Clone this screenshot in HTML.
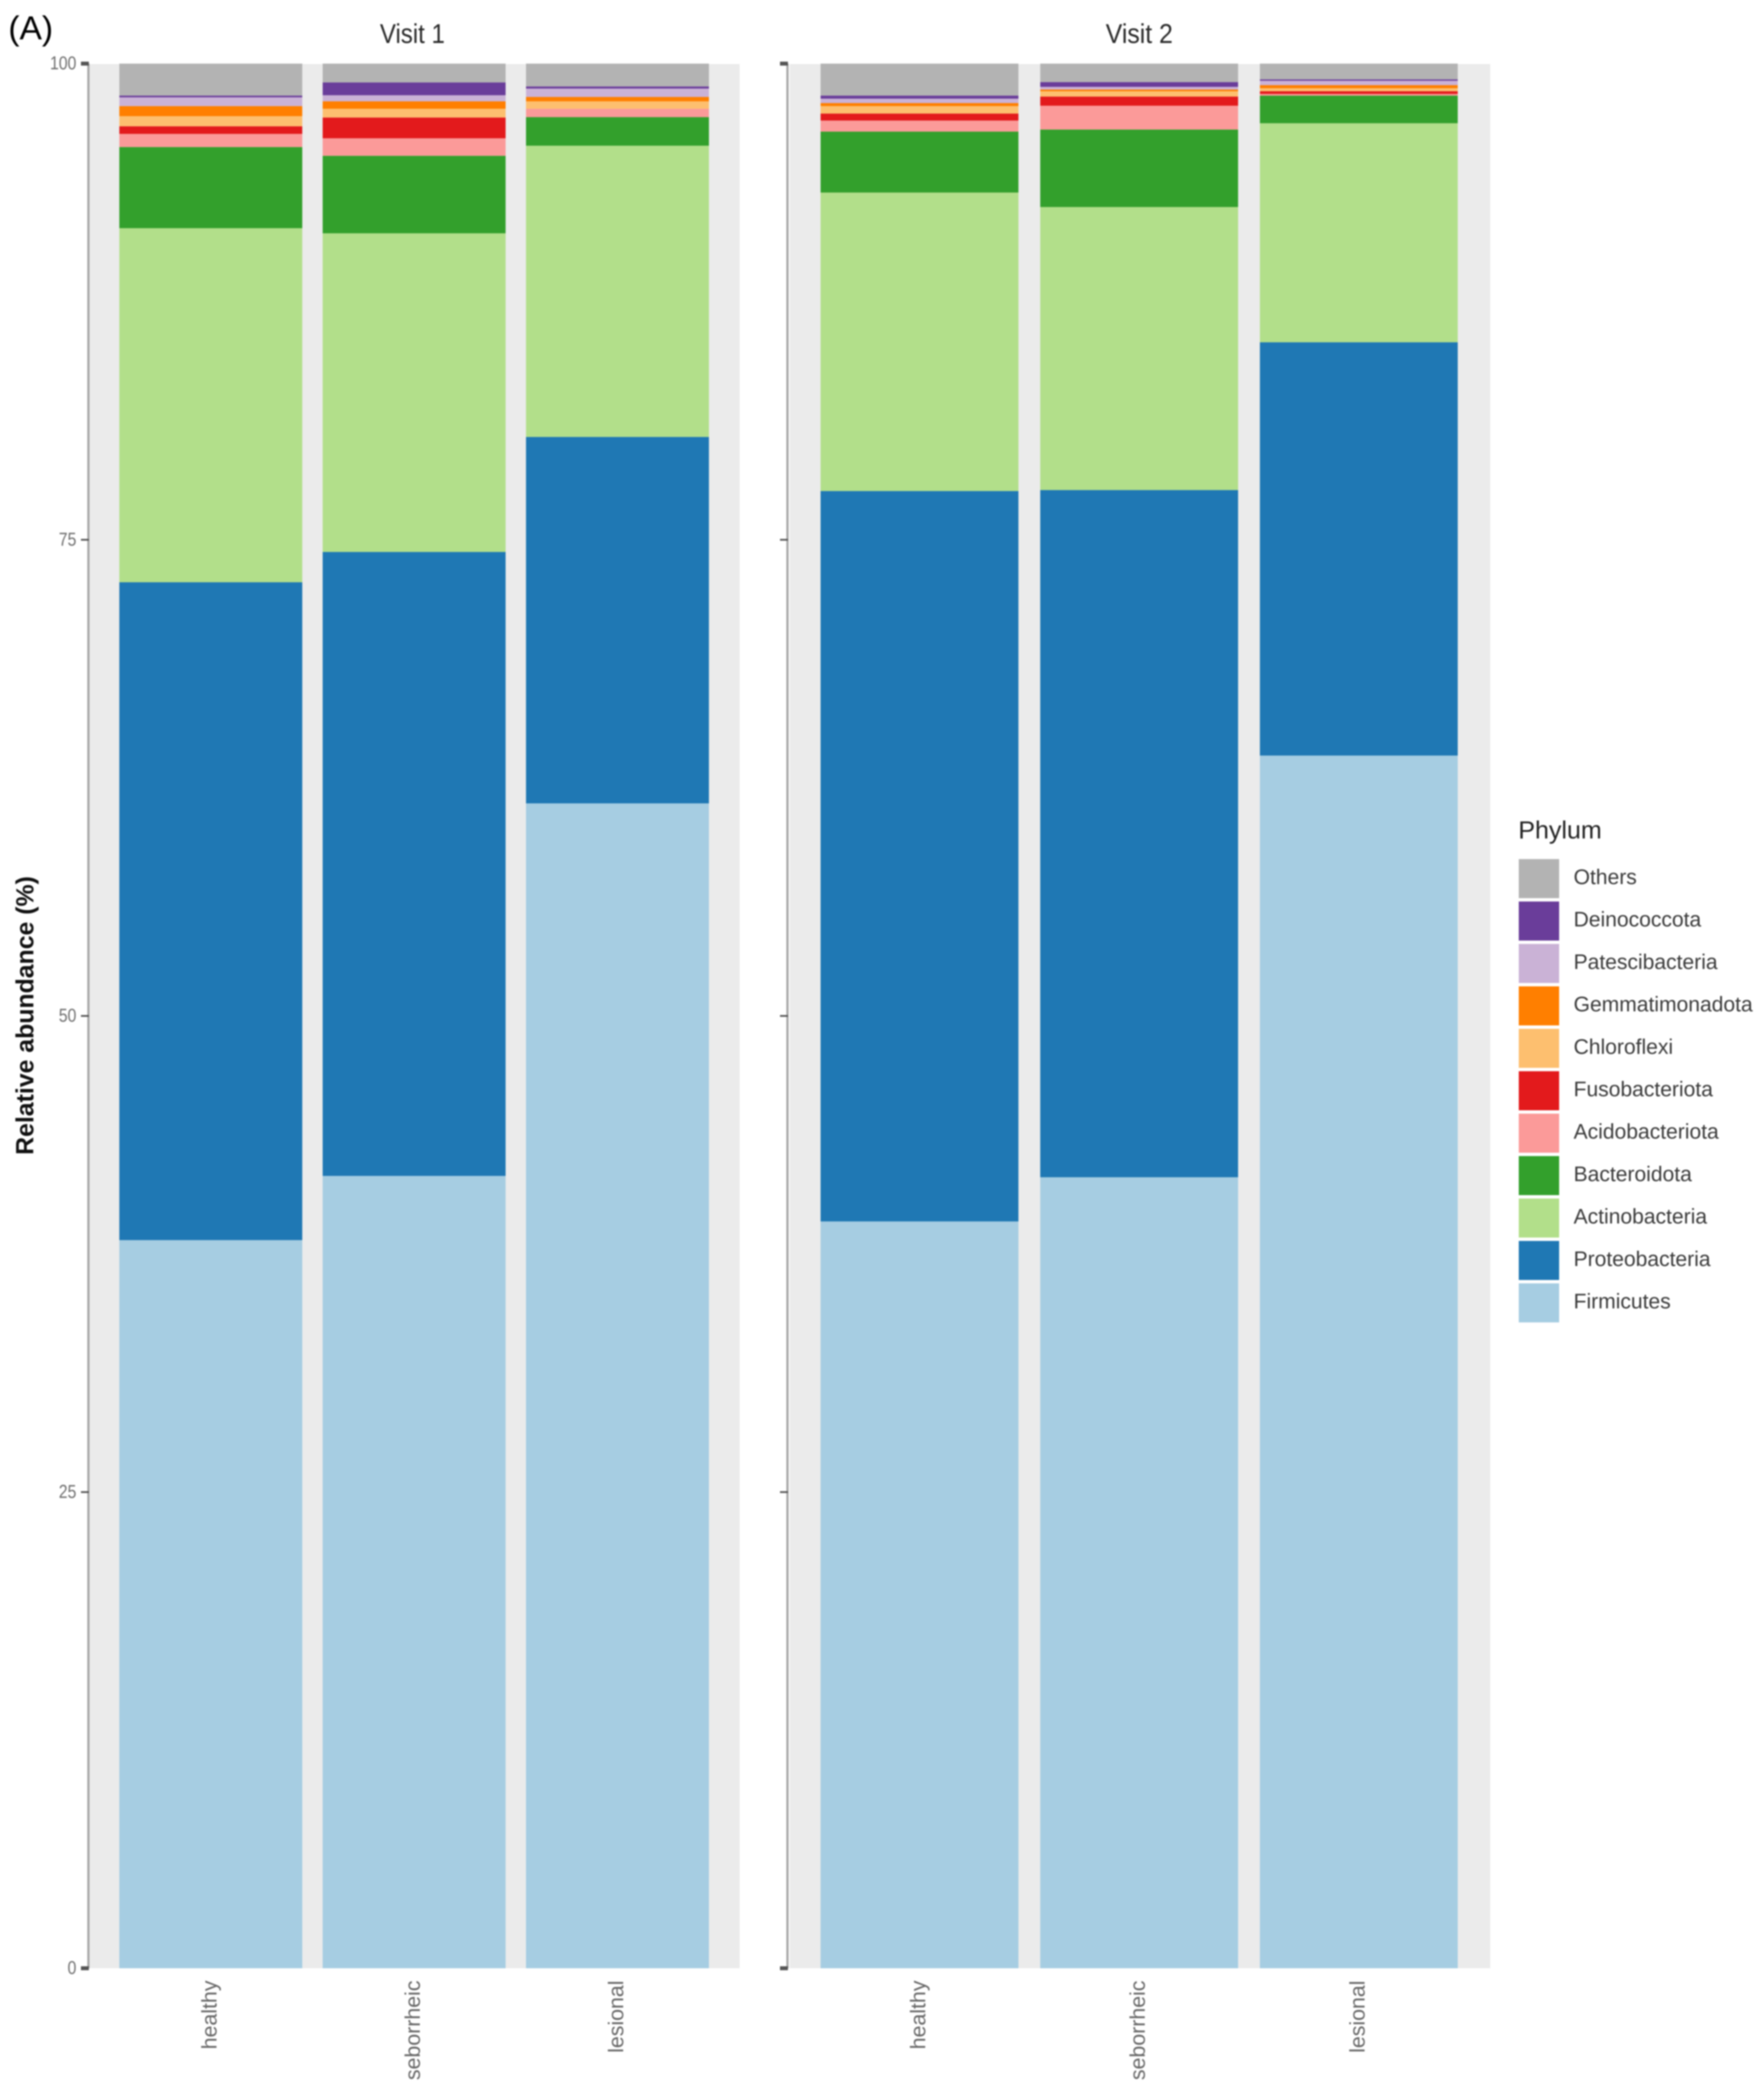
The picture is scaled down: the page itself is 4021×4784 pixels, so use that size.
<!DOCTYPE html>
<html lang="en">
<head>
<meta charset="utf-8">
<title>Relative abundance by phylum</title>
<style>
  html,body{margin:0;padding:0;background:#fff;width:4021px;height:4784px;overflow:hidden}
  svg{display:block;filter:blur(1.6px);font-family:"Liberation Sans",sans-serif}
</style>
</head>
<body>
<svg id="chart" xmlns="http://www.w3.org/2000/svg" width="4021" height="4784" viewBox="0 0 4021 4784">
  <text x="19" y="90" font-size="76" fill="#000" textLength="102" lengthAdjust="spacingAndGlyphs">(A)</text>
  <text transform="rotate(-90 76 2314.5)" x="76" y="2314.5" text-anchor="middle" font-size="56.6" font-weight="700" fill="#111">Relative abundance (%)</text>
  <text x="3461" y="1911" font-size="57" fill="#222">Phylum</text>
  <g id="panels"></g>
  <g id="legend"></g>
</svg>
<script>
const categories = ['healthy', 'seborrheic', 'lesional'];
const visits = ['Visit 1', 'Visit 2'];
const phyla = ['Firmicutes', 'Proteobacteria', 'Actinobacteria', 'Bacteroidota', 'Acidobacteriota', 'Fusobacteriota', 'Chloroflexi', 'Gemmatimonadota', 'Patescibacteria', 'Deinococcota', 'Others'];
const yTicks = [0, 25, 50, 75, 100];
const visit1Healthy = [38.23, 34.54, 18.59, 4.26, 0.69, 0.40, 0.53, 0.53, 0.46, 0.09, 1.68];
const visit1Seborrheic = [41.60, 32.76, 16.73, 4.07, 0.92, 1.09, 0.46, 0.39, 0.32, 0.67, 0.99];
const visit1Lesional = [61.16, 19.24, 15.29, 1.50, 0.44, 0.00, 0.39, 0.23, 0.44, 0.11, 1.20];
const visit2Healthy = [39.21, 38.35, 15.67, 3.20, 0.58, 0.37, 0.39, 0.16, 0.23, 0.16, 1.68];
const visit2Seborrheic = [41.53, 36.08, 14.86, 4.07, 1.25, 0.48, 0.28, 0.09, 0.14, 0.25, 0.97];
const visit2Lesional = [63.67, 21.70, 11.50, 1.45, 0.09, 0.14, 0.16, 0.16, 0.23, 0.07, 0.83];
const seriesByVisit = [
  [visit1Healthy, visit1Seborrheic, visit1Lesional],
  [visit2Healthy, visit2Seborrheic, visit2Lesional]
];
const phylumColors = ['#a6cde2', '#1f78b4', '#b2df8a', '#33a02c', '#fb9a99', '#e31a1c', '#fdbf6f', '#ff7f00', '#cab2d6', '#6a3d9a', '#b3b3b3'];

const NS = 'http://www.w3.org/2000/svg';
const Y0 = 4486, PXPER = 43.41;
const yScale = v => Y0 - v * PXPER;
const panelLayout = [
  {left: 204, right: 1686, axis: 201.5, first: 480.5, pitch: 463.5, barW: 417, titleX: 940, titleW: 148},
  {left: 1800, right: 3397, axis: 1795, first: 2096, pitch: 500.7, barW: 451, titleX: 2597, titleW: 153}
];
function xScale(layout, i) { return layout.first + layout.pitch * i; }
function make(tag, attrs, parent, text) {
  const el = document.createElementNS(NS, tag);
  for (const k in attrs) el.setAttribute(k, attrs[k]);
  if (text !== undefined) el.textContent = text;
  parent.appendChild(el);
  return el;
}
function slug(s) { return s.toLowerCase().replace(/\s+/g, '-'); }

const panelsRoot = document.getElementById('panels');
visits.forEach((visit, p) => {
  const L = panelLayout[p];
  const g = make('g', {}, panelsRoot);
  
  

  const bg = make('rect', {x: L.left, y: yScale(100) + 1, width: L.right - L.left, height: Y0 - yScale(100) - 1, fill: '#ebebeb'}, g);
  
  

  const title = make('text', {x: L.titleX, y: 98, 'text-anchor': 'middle', 'font-size': 62, fill: '#2a2a2a', textLength: L.titleW, lengthAdjust: 'spacingAndGlyphs'}, g, visit);
  
  

  categories.forEach((cat, c) => {
    const cx = xScale(L, c);
    const values = seriesByVisit[p][c];
    let cum = 0;
    values.forEach((val, s) => {
      const top = cum + val;
      if (val > 0) {
        const bar = make('rect', {x: cx - L.barW / 2, y: yScale(top), width: L.barW, height: yScale(cum) - yScale(top), fill: phylumColors[s]}, g);
        
        
      }
      cum = top;
    });
    const bx = cx + 13;
    const label = make('text', {x: bx, y: 4514, transform: 'rotate(-90 ' + bx + ' 4514)', 'text-anchor': 'end', 'font-size': 48.6, fill: '#666'}, g, cat);
    
    
  });

  const axis = make('rect', {x: L.axis - 2.5, y: yScale(100), width: 5, height: Y0 - yScale(100), fill: '#a6a6a6'}, g);
  
  

  yTicks.forEach((t, i) => {
    const end = i === 0 || i === yTicks.length - 1;
    const h = end ? 9 : 4;
    const tick = make('rect', {x: L.axis - 17, y: yScale(t) - h / 2, width: 18, height: h, fill: '#555'}, g);
    
    
    if (p === 0) {
      const str = String(t);
      const lab = make('text', {x: 174, y: yScale(t) + 13, 'text-anchor': 'end', 'font-size': 43, fill: '#6e6e6e', textLength: str.length * 20, lengthAdjust: 'spacingAndGlyphs'}, g, str);
      
      
    }
  });
});

const legendRoot = document.getElementById('legend');
phyla.slice().reverse().forEach((name, i) => {
  const color = phylumColors[phyla.length - 1 - i];
  const y = 1958 + 96.7 * i;
  const g = make('g', {}, legendRoot);
  
  
  const sw = make('rect', {x: 3462, y: y, width: 92, height: 89, fill: color}, g);
  
  
  const tx = make('text', {x: 3587, y: y + 57, 'font-size': 48, fill: '#3a3a3a'}, g, name);
  
  
});
</script>
</body>
</html>
